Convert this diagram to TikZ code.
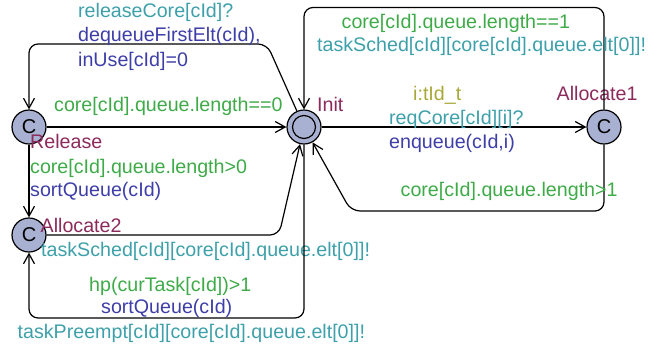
\documentclass[tikz,border=0pt]{standalone}
\usepackage{fontspec}
\setmainfont{Liberation Sans}
\usetikzlibrary{arrows.meta}
\definecolor{locfill}{RGB}{168,177,210}
\definecolor{guardc}{RGB}{62,170,72}
\definecolor{syncc}{RGB}{62,160,170}
\definecolor{updc}{RGB}{62,62,168}
\definecolor{namec}{RGB}{140,42,92}
\definecolor{selc}{RGB}{168,168,58}
\tikzset{
  loc/.style={circle, draw=black, line width=1.2pt, fill=locfill, minimum size=34pt, inner sep=0pt,
    font=\fontsize{20}{23}\selectfont},
  edge/.style={draw=black, line width=1.2pt, rounded corners=9pt,
    -{Straight Barb[length=10pt,width=11pt,line width=1.2pt]}},
  lbl/.style={anchor=base west, inner sep=0pt, font=\fontsize{19.65}{23}\selectfont},
  guard/.style={lbl, text=guardc},
  sync/.style={lbl, text=syncc},
  upd/.style={lbl, text=updc},
  lname/.style={lbl, text=namec},
  sel/.style={lbl, text=selc}
}
\begin{document}
\begin{tikzpicture}[x=1pt,y=-1pt]
\useasboundingbox (0,0) rectangle (664,349);

% locations
\node[loc] (Init) at (304,127) {};
\draw[line width=1.2pt] (Init.center) circle (11.5pt);
\node[loc] (Release) at (29,127) {C};
\node[loc] (Alloc2) at (29,235) {C};
\node[loc] (Alloc1) at (604,127) {C};

% location names
\node[lname] (nInit) at (317,111.5) {Init};
\node[lname] (nAlloc1) at (556.5,100) {Allocate1};
\node[lname] (nRelease) at (30,148) {Release};
\node[lname] (nAlloc2) at (40.5,232.5) {Allocate2};

% Release -> Init
\draw[edge] (Release) -- (Init);
\node[guard] (g1) at (54,111) {core[cId].queue.length==0};

% Init -> Release (over the top)
\coordinate (a1) at (267,44);
\coordinate (a2) at (29,44);
\draw[edge] (Init) -- (a1) -- (a2) -- (Release);
\node[sync] (s2) at (78,17.5) {releaseCore[cId]?};
\node[upd] (u2a) at (78,41.5) {dequeueFirstElt(cId),};
\node[upd] (u2b) at (78,66) {inUse[cId]=0};

% Release -> Allocate2
\draw[edge] (Release) -- (Alloc2);
\node[guard] (g3) at (30,173) {core[cId].queue.length>0};
\node[upd] (u3) at (30,196) {sortQueue(cId)};

% Allocate2 -> Init
\coordinate (b1) at (279,235);
\draw[edge] (Alloc2) -- (b1) -- (Init);
\node[sync] (s4) at (41,256.5) {taskSched[cId][core[cId].queue.elt[0]]!};

% Init -> Allocate2 (along the bottom)
\coordinate (c1) at (304,318);
\coordinate (c2) at (29,318);
\draw[edge] (Init) -- (c1) -- (c2) -- (Alloc2);
\node[guard] (g5) at (89,291.5) {hp(curTask[cId])>1};
\node[upd] (u5) at (101,313.5) {sortQueue(cId)};
\node[sync] (s5) at (17.5,338) {taskPreempt[cId][core[cId].queue.elt[0]]!};

% Init -> Allocate1
\draw[edge] (Init) -- (Alloc1);
\node[sel] (sel6) at (413,100) {i:tId\_t};
\node[sync] (s6) at (389,124) {reqCore[cId][i]?};
\node[upd] (u6) at (389,148) {enqueue(cId,i)};

% Allocate1 -> Init (over the top)
\coordinate (d1) at (604,7.5);
\coordinate (d2) at (304,7.5);
\draw[edge] (Alloc1) -- (d1) -- (d2) -- (Init);
\node[guard] (g7) at (341.5,28.5) {core[cId].queue.length==1};
\node[sync] (s7) at (317,51.5) {taskSched[cId][core[cId].queue.elt[0]]!};

% Allocate1 -> Init (underneath)
\coordinate (e1) at (604,211);
\coordinate (e2) at (351,211);
\draw[edge] (Alloc1) -- (e1) -- (e2) -- (Init);
\node[guard] (g8) at (400.5,196) {core[cId].queue.length>1};
\end{tikzpicture}
\end{document}
